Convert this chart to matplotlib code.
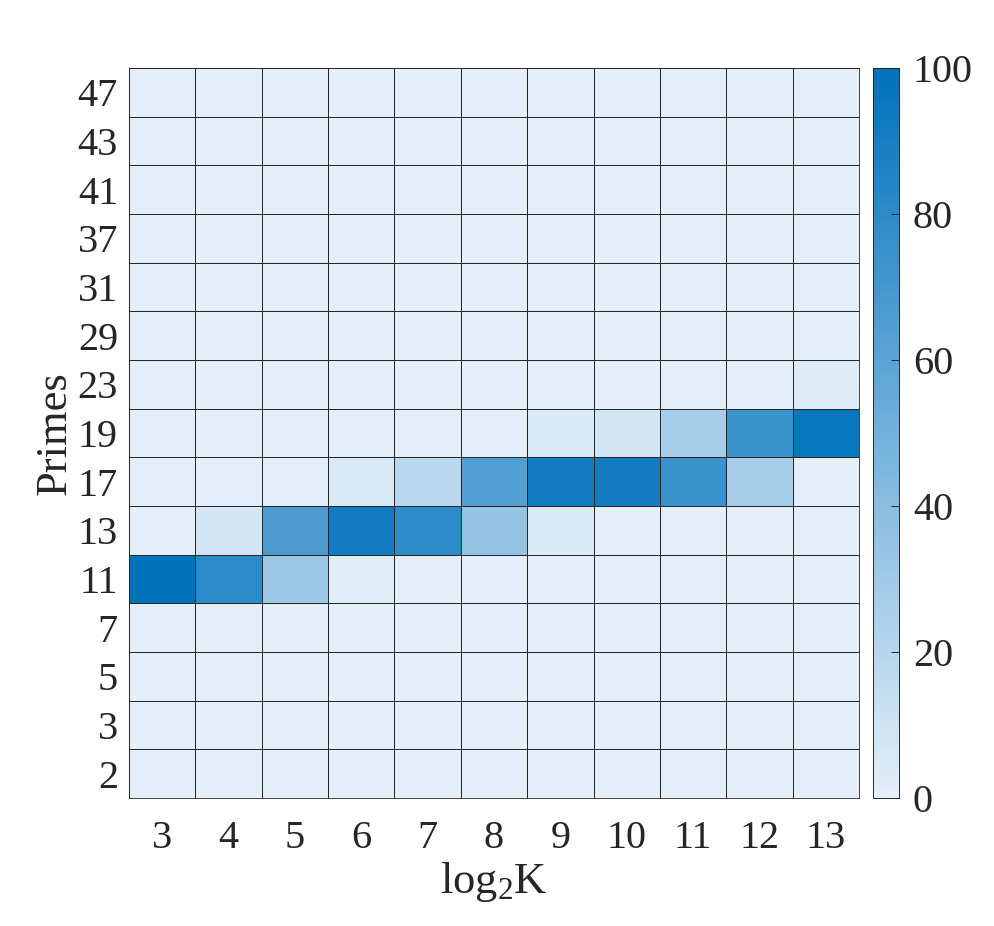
import matplotlib.pyplot as plt
import numpy as np
from matplotlib.colors import LinearSegmentedColormap

log2k = [3, 4, 5, 6, 7, 8, 9, 10, 11, 12, 13]
primes = [2, 3, 5, 7, 11, 13, 17, 19, 23, 29, 31, 37, 41, 43, 47]

# percentage per prime (rows, bottom to top) for each log2K column
p2 = [0, 0, 0, 0, 0, 0, 0, 0, 0, 0, 0]
p3 = [0, 0, 0, 0, 0, 0, 0, 0, 0, 0, 0]
p5 = [0, 0, 0, 0, 0, 0, 0, 0, 0, 0, 0]
p7 = [0, 0, 0, 0, 0, 0, 0, 0, 0, 0, 0]
p11 = [100, 81, 32, 2, 0, 0, 0, 0, 0, 0, 0]
p13 = [0, 8, 67, 92, 81, 35, 5, 0, 0, 0, 0]
p17 = [0, 0, 0, 5, 19, 64, 92, 92, 74, 27, 0]
p19 = [0, 0, 0, 0, 0, 0, 4, 8, 27, 74, 96]
p23 = [0, 0, 0, 0, 0, 0, 0, 0, 0, 0, 3]
p29 = [0, 0, 0, 0, 0, 0, 0, 0, 0, 0, 0]
p31 = [0, 0, 0, 0, 0, 0, 0, 0, 0, 0, 0]
p37 = [0, 0, 0, 0, 0, 0, 0, 0, 0, 0, 0]
p41 = [0, 0, 0, 0, 0, 0, 0, 0, 0, 0, 0]
p43 = [0, 0, 0, 0, 0, 0, 0, 0, 0, 0, 0]
p47 = [0, 0, 0, 0, 0, 0, 0, 0, 0, 0, 0]

values = np.array([p2, p3, p5, p7, p11, p13, p17, p19, p23, p29, p31,
                   p37, p41, p43, p47], dtype=float)

plt.rcParams["font.family"] = ["Liberation Serif", "DejaVu Serif"]
plt.rcParams["mathtext.fontset"] = "custom"
plt.rcParams["mathtext.rm"] = "Liberation Serif"
plt.rcParams["mathtext.it"] = "Liberation Serif:italic"
plt.rcParams["text.color"] = "#262626"

cmap = LinearSegmentedColormap.from_list("mblue", ["#e4eff9", "#0072bd"])

fig = plt.figure(figsize=(9.94, 9.26), dpi=100)
ax = fig.add_axes([0.1298, 0.1382, 0.7344, 0.7883])
cax = fig.add_axes([0.8783, 0.1382, 0.0262, 0.7883])

mesh = ax.pcolormesh(values, cmap=cmap, vmin=0, vmax=100,
                     edgecolors="#262626", linewidth=0.6)
ax.set_xticks(np.arange(len(log2k)) + 0.5)
ax.set_xticklabels(log2k)
ax.set_yticks(np.arange(len(primes)) + 0.5)
ax.set_yticklabels(primes)
ax.tick_params(length=0, labelsize=29, labelcolor="#262626")
ax.tick_params(axis="x", pad=16)
ax.tick_params(axis="y", pad=8)
for s in ax.spines.values():
    s.set_color("#262626")
    s.set_linewidth(0.6)
ax.set_xlabel(r"log$_\mathrm{2}$K", fontsize=32, color="#262626", labelpad=2)
ax.set_ylabel("Primes", fontsize=32, color="#262626", labelpad=2)

cb = fig.colorbar(mesh, cax=cax, ticks=[0, 20, 40, 60, 80, 100])
cb.outline.set_linewidth(0.7)
cb.outline.set_edgecolor("#262626")
cax.tick_params(direction="in", length=6, width=0.7, labelsize=29,
                colors="#262626", pad=10)

fig.savefig("out.png", dpi=100)
